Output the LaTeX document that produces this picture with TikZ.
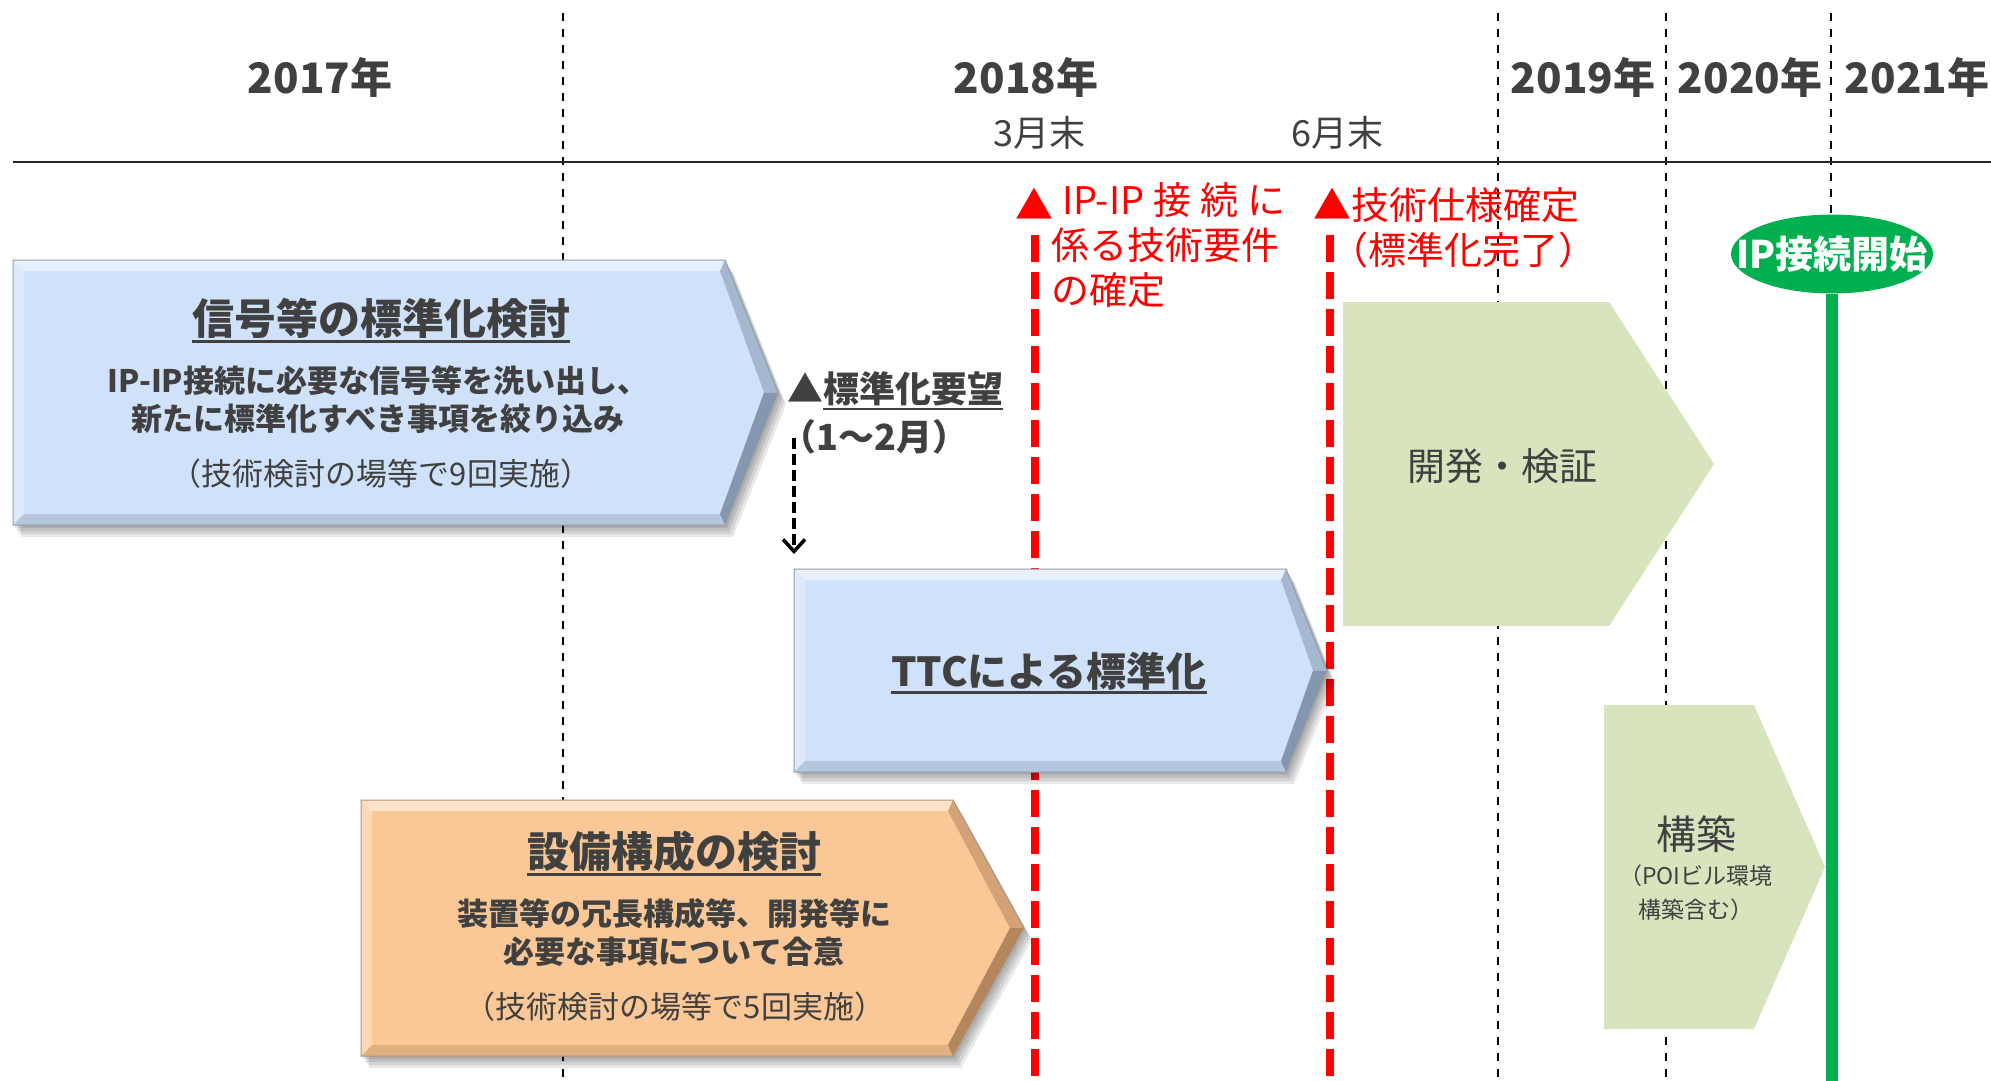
\documentclass[tikz,border=0pt]{standalone}
\usepackage{fontspec}
\setmainfont{Noto Sans CJK JP}
\usetikzlibrary{arrows.meta,shapes.geometric}
\definecolor{tgray}{HTML}{404040}
\definecolor{bfill}{HTML}{CFE2FA}
\definecolor{bdark}{HTML}{4A5A70}
\definecolor{ofill}{HTML}{FAC896}
\definecolor{odark}{HTML}{7A5030}
\definecolor{gfill}{HTML}{D7E4BD}
\definecolor{gline}{HTML}{00B050}
\definecolor{rline}{HTML}{FF0000}
\newsavebox\ulbox
\newcommand\ulx[1]{\sbox\ulbox{#1}\rlap{\rule[-0.2em]{\wd\ulbox}{0.07em}}\usebox\ulbox}
\newcommand\fsz[2]{\fontsize{#1}{#2}\selectfont}
% bevelled arrow: #1 left, #2 top, #3 corner x, #4 tip x, #5 bottom, #6 fill, #7 dark
\newcommand\bevarrow[7]{%
  \pgfmathsetmacro\mM{(#2+#5)/2}%
  \pgfmathsetmacro\iL{#1+11}\pgfmathsetmacro\iT{#2+11}%
  \pgfmathsetmacro\iC{#3-5}\pgfmathsetmacro\iX{#4-14}%
  \pgfmathsetmacro\iB{#5-11}%
  \foreach \sx/\sy in {2/3,4/6,6/9,8/12}{%
    \fill[black,opacity=0.09,shift={(\sx,\sy)}] (#1,#2) -- (#3,#2) -- (#4,\mM) -- (#3,#5) -- (#1,#5) -- cycle;}
  \fill[#6] (#1,#2) -- (#3,#2) -- (#4,\mM) -- (#3,#5) -- (#1,#5) -- cycle;
  \fill[white,opacity=.5] (#1,#2) -- (#3,#2) -- (\iC,\iT) -- (\iL,\iT) -- cycle;
  \fill[white,opacity=.3] (#1,#2) -- (\iL,\iT) -- (\iL,\iB) -- (#1,#5) -- cycle;
  \fill[#7,opacity=.2] (#1,#5) -- (\iL,\iB) -- (\iC,\iB) -- (#3,#5) -- cycle;
  \fill[#7,opacity=.3] (#3,#2) -- (#4,\mM) -- (\iX,\mM) -- (\iC,\iT) -- cycle;
  \fill[#7,opacity=.55] (#4,\mM) -- (#3,#5) -- (\iC,\iB) -- (\iX,\mM) -- cycle;
  \draw[#7!60!white,line width=1] (#1,#2) -- (#3,#2) -- (#4,\mM) -- (#3,#5) -- (#1,#5) -- cycle;
}
\begin{document}
\begin{tikzpicture}[x=1pt,y=-1pt,
  yr/.style={text=tgray,font=\bfseries\fsz{42}{50},inner sep=0},
  mon/.style={text=tgray,font=\fsz{36}{42},inner sep=0},
  ttl/.style={text=tgray,font=\bfseries\fsz{42}{50},inner sep=0},
  body/.style={text=tgray,font=\bfseries\fsz{31}{38},align=center,inner sep=0},
  note/.style={text=tgray,font=\fsz{31}{36},inner sep=0},
  redtxt/.style={text=rline,font=\fsz{38}{45},inner sep=0,align=left},
  gtxt/.style={text=tgray,inner sep=0,align=center},
  vdash/.style={black,line width=2,dash pattern=on 8pt off 8pt},
  rdash/.style={rline,line width=8,dash pattern=on 27pt off 10pt},
  gshape/.style={fill=gfill}]
\useasboundingbox (0,0) rectangle (1991,1081);
\fill[white] (0,0) rectangle (1991,1081);
% grid
\draw[vdash] (563,13) -- (563,1081);
\draw[vdash] (1498,13) -- (1498,1081);
\draw[vdash] (1666,13) -- (1666,1081);
\draw[vdash] (1831,13) -- (1831,1081);
\draw[black!85,line width=2.5] (13,162) -- (1991,162);
% years
\node[yr] (y17) at (320,77) {2017年};
\node[yr] (y18) at (1026,77) {2018年};
\node[yr] (y19) at (1583,77) {2019年};
\node[yr] (y20) at (1750,77) {2020年};
\node[yr] (y21) at (1917,77) {2021年};
\node[mon] (m3) at (1039,133) {3月末};
\node[mon] (m6) at (1337,133) {6月末};
% red milestone lines
\draw[rdash] (1035,235) -- (1035,1081);
\draw[rdash] (1330,235) -- (1330,1081);
% arrows
\bevarrow{13}{260}{725}{778}{525}{bfill}{bdark}
\bevarrow{794}{569}{1286}{1327}{772}{bfill}{bdark}
\bevarrow{361}{800}{953}{1024}{1056}{ofill}{odark}
% green shapes
\fill[gshape] (1343,302) -- (1609,302) -- (1714,464) -- (1609,626) -- (1343,626) -- cycle;
\fill[gshape] (1604,705) -- (1754,705) -- (1825,867) -- (1754,1029) -- (1604,1029) -- cycle;
% IP start
\node[ellipse,fill=gline,minimum width=202,minimum height=79,inner xsep=-30pt,inner ysep=4pt,text=white,font=\bfseries\fsz{38}{44}] (ipstart) at (1832,254) {IP接続開始};
\coordinate (gend) at (1832,1081);
\draw[gline,line width=12] (ipstart.south) -- (gend);
% texts in arrows
\node[ttl] (t1) at (381,321) {\ulx{信号等の標準化検討}};
\node[body] (b1) at (378,400) {IP-IP接続に必要な信号等を洗い出し、\\新たに標準化すべき事項を絞り込み};
\node[note] (n1) at (381,474) {（技術検討の場等で9回実施）};
\node[ttl,font=\bfseries\fsz{40}{48}] (t2) at (1049,673) {\ulx{TTCによる標準化}};
\node[ttl] (t3) at (674,853) {\ulx{設備構成の検討}};
\node[body] (b3) at (674,933) {装置等の冗長構成等、開発等に\\必要な事項について合意};
\node[note] (n3) at (675,1007) {（技術検討の場等で5回実施）};
\node[gtxt,font=\fsz{38}{44}] (dev) at (1502,466) {開発・検証};
\node[gtxt,font=\fsz{40}{46}] (con) at (1696,834) {構築};
\node[gtxt,font=\fsz{23}{34}] (conn) at (1696,893) {（POIビル環境\\構築含む）};
% request
\node[text=tgray,font=\bfseries\fsz{36}{42},inner sep=0,anchor=west] (req) at (787,391) {▲\ulx{標準化要望}};
\node[text=tgray,font=\bfseries\fsz{36}{42},inner sep=0,anchor=west] (reqm) at (780,437) {（1～2月）};
\coordinate (ds) at (794,438);
\coordinate (de) at (794,554);
\draw[black,line width=4,dash pattern=on 11pt off 5pt,-{Straight Barb[length=12pt,width=22pt,line width=3.5pt]}] (ds) -- (de);
% red texts
\node[redtxt] (tri1) at (1034,204) {▲};
\node[redtxt,anchor=north west] (rq) at (1051,182) {\hbox to 234pt{\hspace{11pt}IP-IP\hfill 接\hfill 続\hfill に}\\係る技術要件\\の確定};
\node[redtxt,anchor=west] (spec) at (1313,205) {▲技術仕様確定};
\node[redtxt,anchor=west] (specm) at (1330,250) {（標準化完了）};
\end{tikzpicture}
\end{document}
